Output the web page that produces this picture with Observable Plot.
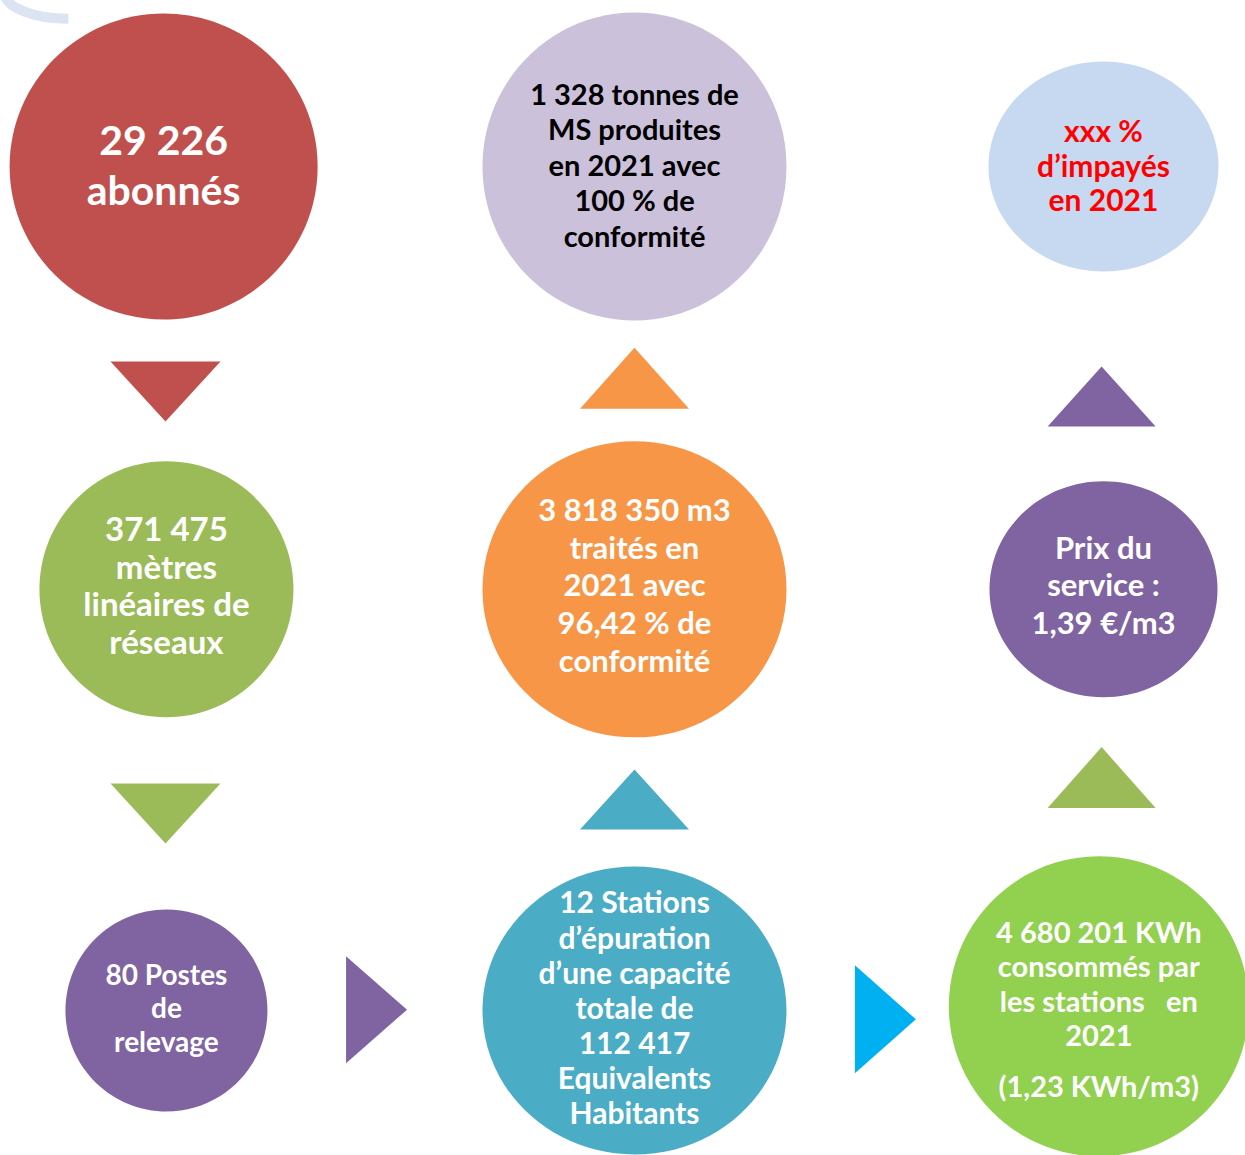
<!DOCTYPE html>
<html>
<head>
<meta charset="utf-8">
<script src="https://cdn.jsdelivr.net/npm/d3@7"></script>
<script src="https://cdn.jsdelivr.net/npm/@observablehq/plot@0.6"></script>
<style>
  html, body { margin: 0; padding: 0; background: #ffffff; }
  #chart svg { display: block; }
</style>
</head>
<body>
<div id="chart"></div>
<script>
// ---------- DATA ----------
const nodeLabels = [
  "29 226\nabonnés",
  "1 328 tonnes de\nMS produites\nen 2021 avec\n100 % de\nconformité",
  "xxx %\nd’impayés\nen 2021",
  "371 475\nmètres\nlinéaires de\nréseaux",
  "3 818 350 m3\ntraités en\n2021 avec\n96,42 % de\nconformité",
  "Prix du\nservice :\n1,39 €/m3",
  "80 Postes\nde\nrelevage",
  "12 Stations\nd’épuration\nd’une capacité\ntotale de\n112 417\nEquivalents\nHabitants",
  "4 680 201 KWh\nconsommés par\nles stations   en\n2021"
];
const nodeNotes = ["", "", "", "", "", "", "", "", "(1,23 KWh/m3)"];
// grid column / row of each circle (flow layout)
const nodeCol = [-0.004, 1, 2, 0.002, 1, 2, 0.002, 1, 1.99];
const nodeRow = [0, 0, 0, 1.002, 1.002, 1.002, 2, 2, 1.99];

// arrows between circles
const arrowDir = ["down", "down", "up", "up", "up", "up", "right", "right"];
const arrowCol = [0, 0, 1, 1, 1.996, 1.996, 0.450, 1.535];
const arrowRow = [0.533, 1.533, 0.502, 1.500, 0.545, 1.448, 1.998, 2.021];

// ---------- STYLE / SIZES ----------
const nodeFill = ["#C0504D", "#CCC1DA", "#C6D9F1", "#9BBB59", "#F79646", "#8064A2", "#8064A2", "#4BACC6", "#92D050"];
const nodeInk  = ["#ffffff", "#000000", "#FF0000", "#ffffff", "#ffffff", "#ffffff", "#ffffff", "#ffffff", "#ffffff"];
const nodeRx   = [154, 152, 115, 127, 152, 114, 101, 152, 150];
const nodeRy   = [153, 154, 105, 128, 148, 108, 101, 144, 150];
const nodeFont = [41, 29, 30, 33, 31, 31, 28, 30, 29];
const nodeLead = [1.22, 1.22, 1.16, 1.15, 1.22, 1.22, 1.2, 1.17, 1.19];
const nodeTextDy = [-3, -2, -1, -4, -5, -5, -3, -3, -23];
const arrowFill = ["#C0504D", "#9BBB59", "#F79646", "#4BACC6", "#8064A2", "#9BBB59", "#8064A2", "#00B0F0"];
const arrowHalf = [55, 55, 54.5, 54.5, 54, 54, 53.5, 54];
const arrowLen  = [60, 60, 61, 60, 60, 61, 61, 61];

// ---------- SYMBOLS ----------
const K = 0.5523;
function ellipseSymbol(k) {
  return {
    draw(ctx, size) {
      const rx = Math.sqrt(size / Math.PI), ry = rx * k;
      ctx.moveTo(rx, 0);
      ctx.bezierCurveTo(rx, ry * K, rx * K, ry, 0, ry);
      ctx.bezierCurveTo(-rx * K, ry, -rx, ry * K, -rx, 0);
      ctx.bezierCurveTo(-rx, -ry * K, -rx * K, -ry, 0, -ry);
      ctx.bezierCurveTo(rx * K, -ry, rx, -ry * K, rx, 0);
      ctx.closePath();
    }
  };
}
function triangleSymbol(dir, k) {
  return {
    draw(ctx, size) {
      const b = Math.sqrt(size / Math.PI), h = b * k / 2;
      if (dir === "down") { ctx.moveTo(-b, -h); ctx.lineTo(b, -h); ctx.lineTo(0, h); }
      else if (dir === "up") { ctx.moveTo(-b, h); ctx.lineTo(b, h); ctx.lineTo(0, -h); }
      else { ctx.moveTo(-h, -b); ctx.lineTo(-h, b); ctx.lineTo(h, 0); }
      ctx.closePath();
    }
  };
}
// faint decorative arc in the top-left corner
function arcSymbol(k) {
  return {
    draw(ctx, size) {
      const rx = Math.sqrt(size / Math.PI), ry = rx * k;
      ctx.moveTo(0, ry);
      ctx.bezierCurveTo(-rx * K, ry, -rx, ry * K, -rx, 0);
    }
  };
}

// ---------- TABLES ----------
const nodes = nodeLabels.map((label, i) => ({
  label, note: nodeNotes[i], col: nodeCol[i], row: nodeRow[i],
  fill: nodeFill[i], ink: nodeInk[i], rx: nodeRx[i], ry: nodeRy[i],
  font: nodeFont[i], lead: nodeLead[i], dy: nodeTextDy[i]
}));
const arrows = arrowDir.map((dir, i) => ({
  dir, col: arrowCol[i], row: arrowRow[i], fill: arrowFill[i], half: arrowHalf[i], len: arrowLen[i]
}));
const decor = [{col: -0.207, row: -0.412}];

const marks = [];
marks.push(Plot.dot(decor, {x: "col", y: "row", r: 64, symbol: arcSymbol(26 / 64), fill: "none", stroke: "#DCE4F1", strokeWidth: 10}));
for (const n of nodes) {
  marks.push(Plot.dot([n], {x: "col", y: "row", r: n.rx, symbol: ellipseSymbol(n.ry / n.rx), fill: n.fill, stroke: "none"}));
}
for (const a of arrows) {
  marks.push(Plot.dot([a], {x: "col", y: "row", r: a.half, symbol: triangleSymbol(a.dir, a.len / a.half), fill: a.fill, stroke: "none"}));
}
for (const n of nodes) {
  marks.push(Plot.text([n], {
    x: "col", y: "row", text: "label", fill: n.ink, fontSize: n.font, lineHeight: n.lead,
    fontWeight: "bold", fontFamily: "Lato", textAnchor: "middle", lineAnchor: "middle", dy: n.dy
  }));
  if (n.note) {
    marks.push(Plot.text([n], {
      x: "col", y: "row", text: "note", fill: n.ink, fontSize: n.font, fontWeight: "bold",
      fontFamily: "Lato", textAnchor: "middle", lineAnchor: "middle", dy: n.dy + 104
    }));
  }
}

const chart = Plot.plot({
  width: 1245,
  height: 1155,
  margin: 0,
  x: {domain: [0, 2], range: [165, 1103], axis: null},
  y: {domain: [0, 2], range: [166, 1010], axis: null},
  style: {background: "#ffffff", overflow: "hidden"},
  marks
});
document.getElementById("chart").append(chart);
</script>
</body>
</html>
